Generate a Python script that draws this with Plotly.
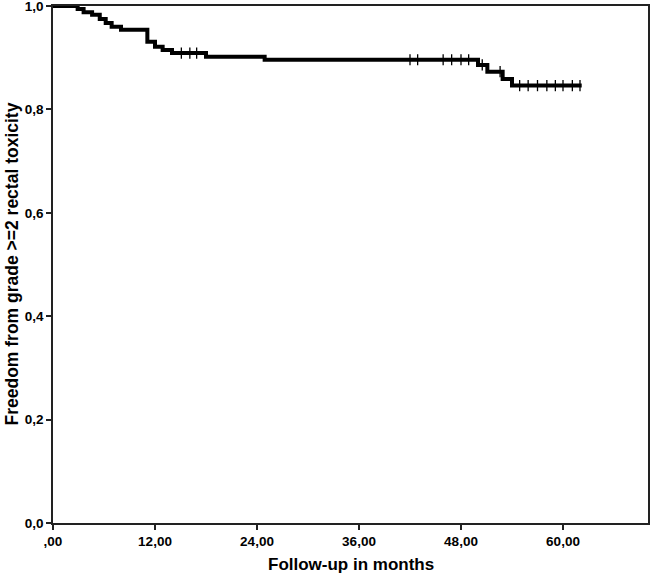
import numpy as np
import plotly.graph_objects as go

# Kaplan-Meier estimate
event_months = [2.9, 3.6, 4.6, 5.5, 6.2, 6.9, 8.0, 11.1, 12.0, 12.9, 14.0, 18.0, 24.9,
                50.0, 51.1, 52.9, 54.0]
survival = [0.994, 0.988, 0.983, 0.975, 0.967, 0.960, 0.954, 0.931, 0.921, 0.915, 0.909,
            0.902, 0.896, 0.886, 0.873, 0.859, 0.846]
last_followup = 62.2
censor_months = [15.1, 16.1, 16.9, 42.0, 42.9, 45.9, 46.9, 48.0, 48.9, 50.5, 52.6,
                 54.9, 55.9, 57.0, 58.1, 59.1, 60.0, 61.1, 62.0]

x_tickvals = [0, 12, 24, 36, 48, 60]
x_ticktext = [",00", "12,00", "24,00", "36,00", "48,00", "60,00"]
y_tickvals = [0, 0.2, 0.4, 0.6, 0.8, 1.0]
y_ticktext = ["0,0", "0,2", "0,4", "0,6", "0,8", "1,0"]

step_x = [0] + event_months + [last_followup]
step_y = [1.0] + survival + [survival[-1]]

ev = np.array(event_months)
sv = np.array([1.0] + survival)
censor_y = [sv[np.searchsorted(ev, c, side="right")] for c in censor_months]

FONT = "Liberation Sans, Arial, sans-serif"

fig = go.Figure()
fig.add_trace(go.Scatter(x=step_x, y=step_y, mode="lines", line_shape="hv",
                         line=dict(color="black", width=4), hoverinfo="skip"))
fig.add_trace(go.Scatter(x=censor_months, y=censor_y, mode="markers",
                         marker=dict(symbol="line-ns-open", size=8, color="black",
                                     line=dict(color="black", width=1.3)),
                         hoverinfo="skip"))

fig.update_layout(
    width=650, height=576,
    margin=dict(l=53, r=2, t=6, b=53, autoexpand=False),
    paper_bgcolor="white", plot_bgcolor="white",
    showlegend=False,
    font=dict(family=FONT, color="black"),
    annotations=[
        dict(text="<b>Follow-up in months</b>", xref="paper", yref="paper",
             x=0.5, y=0, xanchor="center", yanchor="top", yshift=-30,
             showarrow=False, font=dict(family=FONT, size=17, color="black")),
        dict(text="<b>Freedom from grade >=2 rectal toxicity</b>", xref="paper",
             yref="paper", x=0, y=0.5, xanchor="center", yanchor="middle",
             xshift=-42, textangle=-90, showarrow=False,
             font=dict(family=FONT, size=17.5, color="black")),
    ],
)
fig.update_xaxes(
    range=[0, 70], tickvals=x_tickvals, ticktext=x_ticktext, automargin=False,
    tickfont=dict(family=FONT, size=13.5, color="black", weight="bold"),
    ticks="outside", ticklen=5, tickwidth=1.5, tickcolor="#222",
    showline=True, linecolor="#222", linewidth=1.5, mirror=True,
    showgrid=False, zeroline=False, ticklabeloverflow="allow",
)
fig.update_yaxes(
    range=[0, 1.0], tickvals=y_tickvals, ticktext=y_ticktext, automargin=False,
    tickfont=dict(family=FONT, size=13.5, color="black", weight="bold"),
    ticks="outside", ticklen=5, tickwidth=1.5, tickcolor="#222",
    showline=True, linecolor="#222", linewidth=1.5, mirror=True,
    showgrid=False, zeroline=False, ticklabeloverflow="allow",
)

fig.write_html("out.html", config={"displayModeBar": False},
               post_script="document.body.style.margin='0';document.body.style.overflow='hidden';")
